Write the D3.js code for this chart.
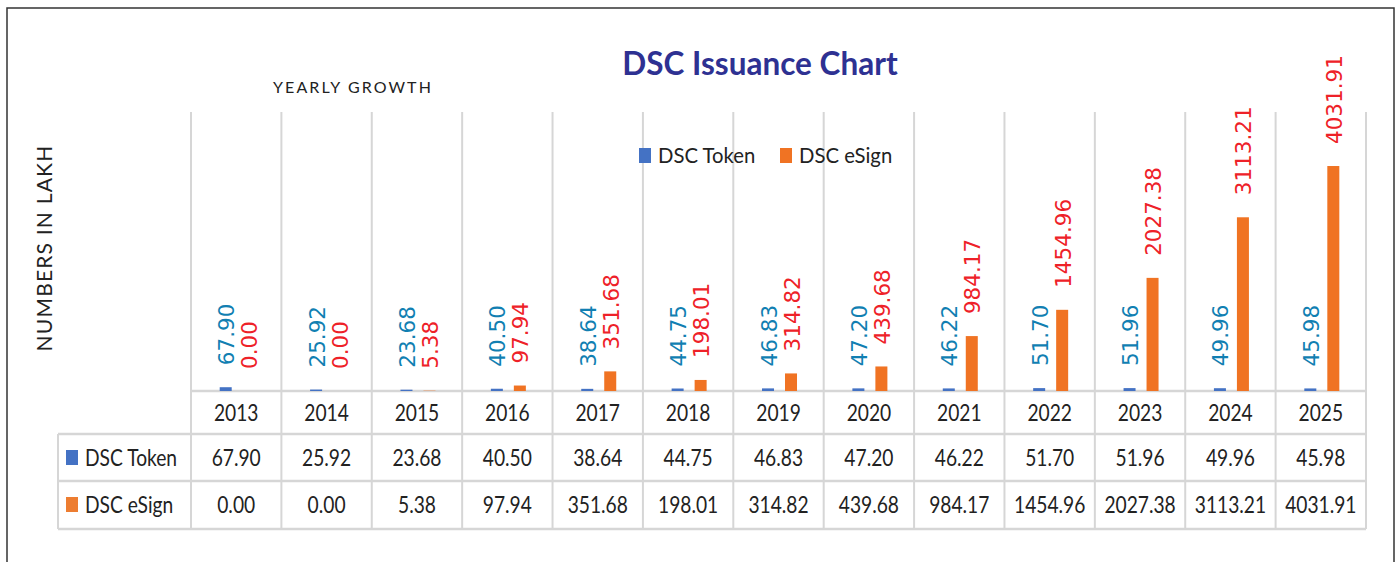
<!DOCTYPE html>
<html>
<head>
<meta charset="utf-8">
<script src="https://cdn.jsdelivr.net/npm/d3@7"></script>
<style>
  body { margin: 0; background: #fff; }
  svg { display: block; }
</style>
</head>
<body>
<div id="chart"></div>
<script>
// data
var years = ["2013", "2014", "2015", "2016", "2017", "2018", "2019", "2020", "2021", "2022", "2023", "2024", "2025"];
var seriesNames = ["DSC Token", "DSC eSign"];
var tokenValues = [67.90, 25.92, 23.68, 40.50, 38.64, 44.75, 46.83, 47.20, 46.22, 51.70, 51.96, 49.96, 45.98];
var esignValues = [0.00, 0.00, 5.38, 97.94, 351.68, 198.01, 314.82, 439.68, 984.17, 1454.96, 2027.38, 3113.21, 4031.91];

var barColors = ["#4472c4", "#f07323"];
var tableKeyColors = ["#4472c4", "#ed7d31"];
var labelColors = ["#117fb2", "#ee2128"];
var gridColor = "#d6d6d6";

var width = 1395, height = 562;

var rows = years.map(function(y, i) {
  return {year: y, values: [tokenValues[i], esignValues[i]]};
});

var svg = d3.select("#chart")
  .append("svg")
  .attr("width", width)
  .attr("height", height);

// outer frame
svg.append("rect")
  .attr("x", 7).attr("y", 8)
  .attr("width", 1387).attr("height", 600)
  .attr("fill", "none")
  .attr("stroke", "#333")
  .attr("stroke-width", 1.5);

///////////////////////////////////////////////////////////////
///////////// scales
var x = d3.scaleBand()
  .domain(years)
  .range([191, 1366]);

var xInner = d3.scaleBand()
  .domain(seriesNames)
  .range([28.7, 63.7])
  .paddingInner(0.478);

var y = d3.scaleLinear()
  .domain([0, 5000])
  .range([391, 112]);

// vertical grid lines between categories
var bounds = years.map(function(d) { return x(d); }).concat([x.range()[1]]);
svg.append("g")
  .selectAll("line")
  .data(bounds)
  .enter().append("line")
  .attr("x1", function(d) { return d; })
  .attr("x2", function(d) { return d; })
  .attr("y1", y.range()[1])
  .attr("y2", 529)
  .attr("stroke", gridColor)
  .attr("stroke-width", 2);

// table outline (left column + rows)
svg.append("line")
  .attr("x1", 58).attr("x2", 58).attr("y1", 434).attr("y2", 529)
  .attr("stroke", gridColor).attr("stroke-width", 2);
[391, 434, 481, 529].forEach(function(ly, i) {
  svg.append("line")
    .attr("x1", i == 0 ? 191 : 58)
    .attr("x2", 1366)
    .attr("y1", ly).attr("y2", ly)
    .attr("stroke", gridColor)
    .attr("stroke-width", 2.5);
});

///////////////////////////////////////////////////////////////
///////////// bars + labels
var groups = svg.selectAll(".yr")
  .data(rows)
  .enter().append("g")
  .attr("class", "yr")
  .attr("transform", function(d) { return "translate(" + x(d.year) + ",0)"; });

groups.selectAll("rect")
  .data(function(d) { return d.values; })
  .enter().append("rect")
  .attr("x", function(d, i) { return xInner(seriesNames[i]); })
  .attr("y", function(d) { return y(d); })
  .attr("width", xInner.bandwidth())
  .attr("height", function(d) { return y(0) - y(d); })
  .attr("fill", function(d, i) { return barColors[i]; });

groups.selectAll("text")
  .data(function(d) { return d.values; })
  .enter().append("text")
  .attr("transform", function(d, i) {
    var cx = xInner(seriesNames[i]) + xInner.bandwidth() / 2 + 1;
    return "translate(" + cx + "," + (y(d) - 22) + ")rotate(-90)";
  })
  .attr("dominant-baseline", "central")
  .style("font-family", "'DejaVu Sans', Verdana, sans-serif")
  .style("font-size", "21.5px")
  .style("fill", function(d, i) { return labelColors[i]; })
  .text(function(d) { return d.toFixed(2); });

///////////////////////////////////////////////////////////////
///////////// titles
svg.append("text")
  .attr("x", 760).attr("y", 75)
  .attr("text-anchor", "middle")
  .style("font-family", "Lato, sans-serif")
  .style("font-weight", "bold")
  .style("font-size", "31.5px")
  .style("fill", "#2e3192")
  .text("DSC Issuance Chart");

svg.append("text")
  .attr("x", 353).attr("y", 93)
  .attr("text-anchor", "middle")
  .style("font-family", "Lato, sans-serif")
  .style("font-size", "16px")
  .style("letter-spacing", "2.1px")
  .style("fill", "#222")
  .text("YEARLY GROWTH");

svg.append("text")
  .attr("transform", "translate(43,248)rotate(-90)")
  .attr("text-anchor", "middle")
  .attr("dominant-baseline", "central")
  .style("font-family", "Lato, sans-serif")
  .style("font-size", "21px")
  .style("letter-spacing", "1.2px")
  .style("fill", "#222")
  .text("NUMBERS IN LAKH");

///////////////////////////////////////////////////////////////
///////////// legend
var legend = svg.append("g").attr("transform", "translate(639,146)");
var legendX = [0, 141];
seriesNames.forEach(function(name, i) {
  legend.append("rect")
    .attr("x", legendX[i]).attr("y", 2)
    .attr("width", 12).attr("height", 15)
    .attr("fill", barColors[i]);
  legend.append("text")
    .attr("x", legendX[i] + 19).attr("y", 17)
    .style("font-family", "Lato, sans-serif")
    .style("font-size", "20.3px")
    .style("fill", "#222")
    .text(name);
});

///////////////////////////////////////////////////////////////
///////////// data table
var cellFont = function(sel) {
  sel.style("font-family", "Lato, sans-serif")
    .style("font-size", "24px")
    .style("fill", "#222");
};

// year row
svg.append("g").selectAll("text")
  .data(years)
  .enter().append("text")
  .attr("transform", function(d) {
    return "translate(" + (x(d) + x.bandwidth() / 2) + ",421)scale(0.8,1)";
  })
  .attr("text-anchor", "middle")
  .call(cellFont)
  .text(function(d) { return d; });

var tableRows = [tokenValues, esignValues];
var rowBase = [466, 513];
tableRows.forEach(function(vals, r) {
  svg.append("rect")
    .attr("x", 66).attr("y", rowBase[r] - 16)
    .attr("width", 12).attr("height", 15)
    .attr("fill", tableKeyColors[r]);
  svg.append("text")
    .attr("transform", "translate(85," + rowBase[r] + ")scale(0.8,1)")
    .call(cellFont)
    .text(seriesNames[r]);
  svg.append("g").selectAll("text")
    .data(vals)
    .enter().append("text")
    .attr("transform", function(d, i) {
      return "translate(" + (x(years[i]) + x.bandwidth() / 2) + "," + rowBase[r] + ")scale(0.8,1)";
    })
    .attr("text-anchor", "middle")
    .call(cellFont)
    .text(function(d) { return d.toFixed(2); });
});
</script>
</body>
</html>
